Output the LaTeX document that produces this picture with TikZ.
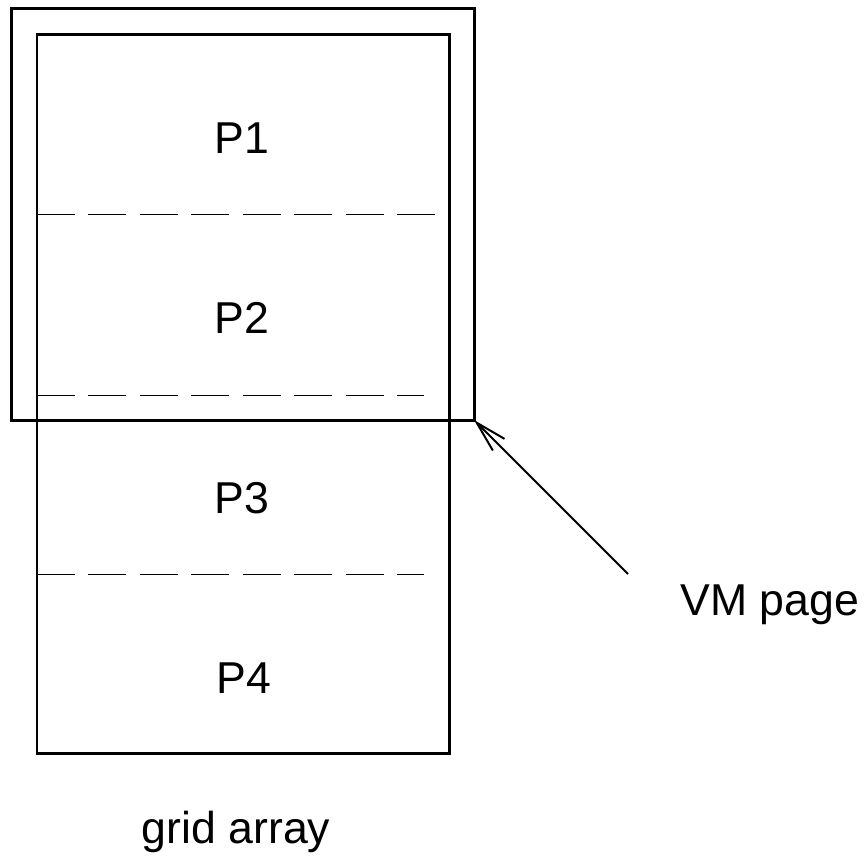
\documentclass[tikz,border=0pt]{standalone}
\usepackage{fontspec}
\setmainfont{Liberation Sans}
\usetikzlibrary{arrows.meta}
\begin{document}
\begin{tikzpicture}[x=0.02cm,y=-0.02cm]
    \tikzstyle{every node}+=[inner sep=0pt,font=\fontsize{25.4}{30}\selectfont]
    \tikzstyle{frame}=[line width=0.06cm]
    \tikzstyle{split}=[line width=0.02cm,dash pattern=on 0.76cm off 0.27cm]
    \useasboundingbox (0,0) rectangle (867,860);
    % VM page and grid array
    \coordinate (vmA) at (11.5,8.5);
    \coordinate (vmB) at (474,420);
    \coordinate (gridA) at (37,34.5);
    \coordinate (gridB) at (449,753.5);
    \draw [frame] (vmA) rectangle (vmB);
    \draw [frame] (gridA) rectangle (gridB);
    % partition lines
    \coordinate (s1a) at (37,214);
    \coordinate (s1b) at (436,214);
    \coordinate (s2a) at (37,395);
    \coordinate (s2b) at (424,395);
    \coordinate (s3a) at (37,574);
    \coordinate (s3b) at (424,574);
    \draw [split] (s1a) -- (s1b);
    \draw [split] (s2a) -- (s2b);
    \draw [split] (s3a) -- (s3b);
    % labels
    \node (p1) at (242,153) [anchor=base] {P1};
    \node (p2) at (242,333) [anchor=base] {P2};
    \node (p3) at (242,513) [anchor=base] {P3};
    \node (p4) at (244,693) [anchor=base] {P4};
    \node (gridlabel) at (236,843) [anchor=base] {grid array};
    \node (vmlabel) at (680,615) [anchor=base west] {VM page};
    \coordinate (vmtail) at (628,574);
    \draw [line width=0.04cm,-{Straight Barb[length=0.62cm,width=0.33cm]}] (vmtail) -- (vmB);
\end{tikzpicture}
\end{document}
